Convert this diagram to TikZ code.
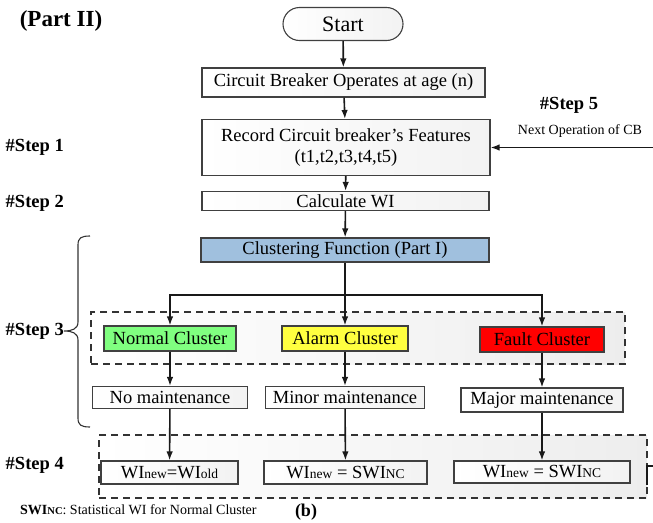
\documentclass[tikz,border=0pt]{standalone}
\usepackage{fontspec}
\setmainfont{Liberation Serif}
\usetikzlibrary{arrows.meta,shapes.misc}
\newcommand\bodyfs{\fontsize{18.5}{20}\selectfont}
\newcommand\smfs[1]{{\fontsize{13.5}{14}\selectfont #1}}
\definecolor{clblue}{RGB}{160,192,222}
\definecolor{ncgreen}{RGB}{128,255,128}
\definecolor{acyellow}{RGB}{255,255,64}
\definecolor{fcred}{RGB}{255,0,0}
\tikzset{
  box/.style={draw=black!75, line width=1.1pt, left color=white, right color=gray!10, inner sep=0pt, font=\bodyfs, align=center},
  cbox/.style={draw=black!75, line width=1.1pt, inner sep=0pt, font=\bodyfs},
  region/.style={draw=black!80, line width=1.1pt, dash pattern=on 7pt off 5pt, left color=white, right color=gray!14},
  conn/.style={line width=1.6pt, draw=black!90},
  arr/.style={conn, -{Latex[length=9pt,width=6.5pt]}},
  steplbl/.style={font=\bfseries\fontsize{18.5}{20}\selectfont, anchor=east, inner sep=0pt}
}
\begin{document}
\begin{tikzpicture}[x=1pt,y=-1pt]
\useasboundingbox (0,0) rectangle (653,522);
% dashed regions
\node[region, minimum width=534pt, minimum height=52pt, inner sep=0pt] (reg1) at (358,338) {};
\node[region, minimum width=548pt, minimum height=63pt, inner sep=0pt] (reg2) at (373,466.5) {};
% title
\node[font=\bfseries\fontsize{23}{25}\selectfont, inner sep=0pt] (title) at (61,21) {(Part II)};
% main flow
\node[box, rounded rectangle, minimum width=120pt, minimum height=33pt, font=\fontsize{22}{24}\selectfont] (start) at (343,24) {Start};
\node[box, minimum width=283pt, minimum height=29pt] (b1) at (343.5,82.5) {Circuit Breaker Operates at age (n)};
\node[box, minimum width=288pt, minimum height=56pt] (b2) at (346,147.5) {Record Circuit breaker\symbol{39}s Features\\[1pt](t1,t2,t3,t4,t5)};
\node[box, minimum width=287pt, minimum height=19pt] (b3) at (345.5,201) {Calculate WI};
\node[cbox, fill=clblue, minimum width=288pt, minimum height=24pt] (clu) at (345,250) {Clustering Function (Part I)};
% clusters
\node[cbox, fill=ncgreen, minimum width=132pt, minimum height=25pt] (nc) at (170,338.5) {Normal Cluster};
\node[cbox, fill=acyellow, minimum width=126pt, minimum height=25pt] (ac) at (345,338.5) {Alarm Cluster};
\node[cbox, fill=fcred, minimum width=124pt, minimum height=25pt] (fc) at (542,339.5) {Fault Cluster};
% maintenance
\node[box, minimum width=155pt, minimum height=22pt] (m1) at (170,397.5) {No maintenance};
\node[box, minimum width=159pt, minimum height=22pt] (m2) at (345,397.5) {Minor maintenance};
\node[box, minimum width=162pt, minimum height=24pt] (m3) at (542,400) {Major maintenance};
% WI updates
\node[box, minimum width=137pt, minimum height=23pt] (w1) at (169.5,472.5) {WI\smfs{new}=WI\smfs{old}};
\node[box, minimum width=163pt, minimum height=23pt] (w2) at (345.5,472.5) {WI\smfs{new} = SWI\smfs{NC}};
\node[box, minimum width=176pt, minimum height=22pt] (w3) at (542,472) {WI\smfs{new} = SWI\smfs{NC}};
% step labels
\node[steplbl] (s1) at (64,147) {\#Step 1};
\node[steplbl] (s2) at (64,203) {\#Step 2};
\node[steplbl] (s3) at (64,331) {\#Step 3};
\node[steplbl] (s4) at (64,465) {\#Step 4};
\node[font=\bfseries\fontsize{18.5}{20}\selectfont, inner sep=0pt] (s5) at (569,105) {\#Step 5};
\node[font=\fontsize{14}{16}\selectfont, inner sep=0pt] (s5t) at (580,131) {Next Operation of CB};
\node[font=\fontsize{14}{16}\selectfont, inner sep=0pt, anchor=west] (note) at (20,510) {\textbf{SWI{\fontsize{10.5}{12}\selectfont NC}}: Statistical WI for Normal Cluster};
\node[font=\bfseries\fontsize{18}{20}\selectfont, inner sep=0pt] (lblb) at (306,512) {(b)};
% connectors
\draw[arr] (start) -- (b1);
\draw[arr] (b1) -- (b2);
\draw[arr] (b2) -- (b3);
\draw[arr] (b3) -- (clu);
\coordinate (br) at (345,295);
\draw[arr] (clu) -- (ac);
\draw[arr] (br) -| (nc.north);
\draw[arr] (br) -| (fc.north);
\draw[arr] (nc) -- (m1);
\draw[arr] (ac) -- (m2);
\draw[arr] (fc) -- (m3);
\draw[arr] (m1) -- (w1);
\draw[arr] (m2) -- (w2);
\draw[arr] (m3) -- (w3);
\coordinate (in5) at (653,147.5);
\draw[arr] (in5) -- (b2.east);
\coordinate (lpa) at (647,485);
\coordinate (lpb) at (647,466);
\coordinate (lpc) at (653,466);
\draw[conn, line width=1.2pt] (lpa) -- (lpb) -- (lpc);
% brace for step 3
\coordinate (brt) at (90,236);
\coordinate (brtip) at (64,331);
\coordinate (brb) at (90,427);
\draw[line width=1.1pt, black!80] (brt) .. controls (81,236) and (78,238) .. (78,245) -- (78,322) .. controls (78,329) and (72,331) .. (brtip)
  .. controls (72,331) and (78,333) .. (78,340) -- (78,418) .. controls (78,425) and (81,427) .. (brb);
\end{tikzpicture}
\end{document}
